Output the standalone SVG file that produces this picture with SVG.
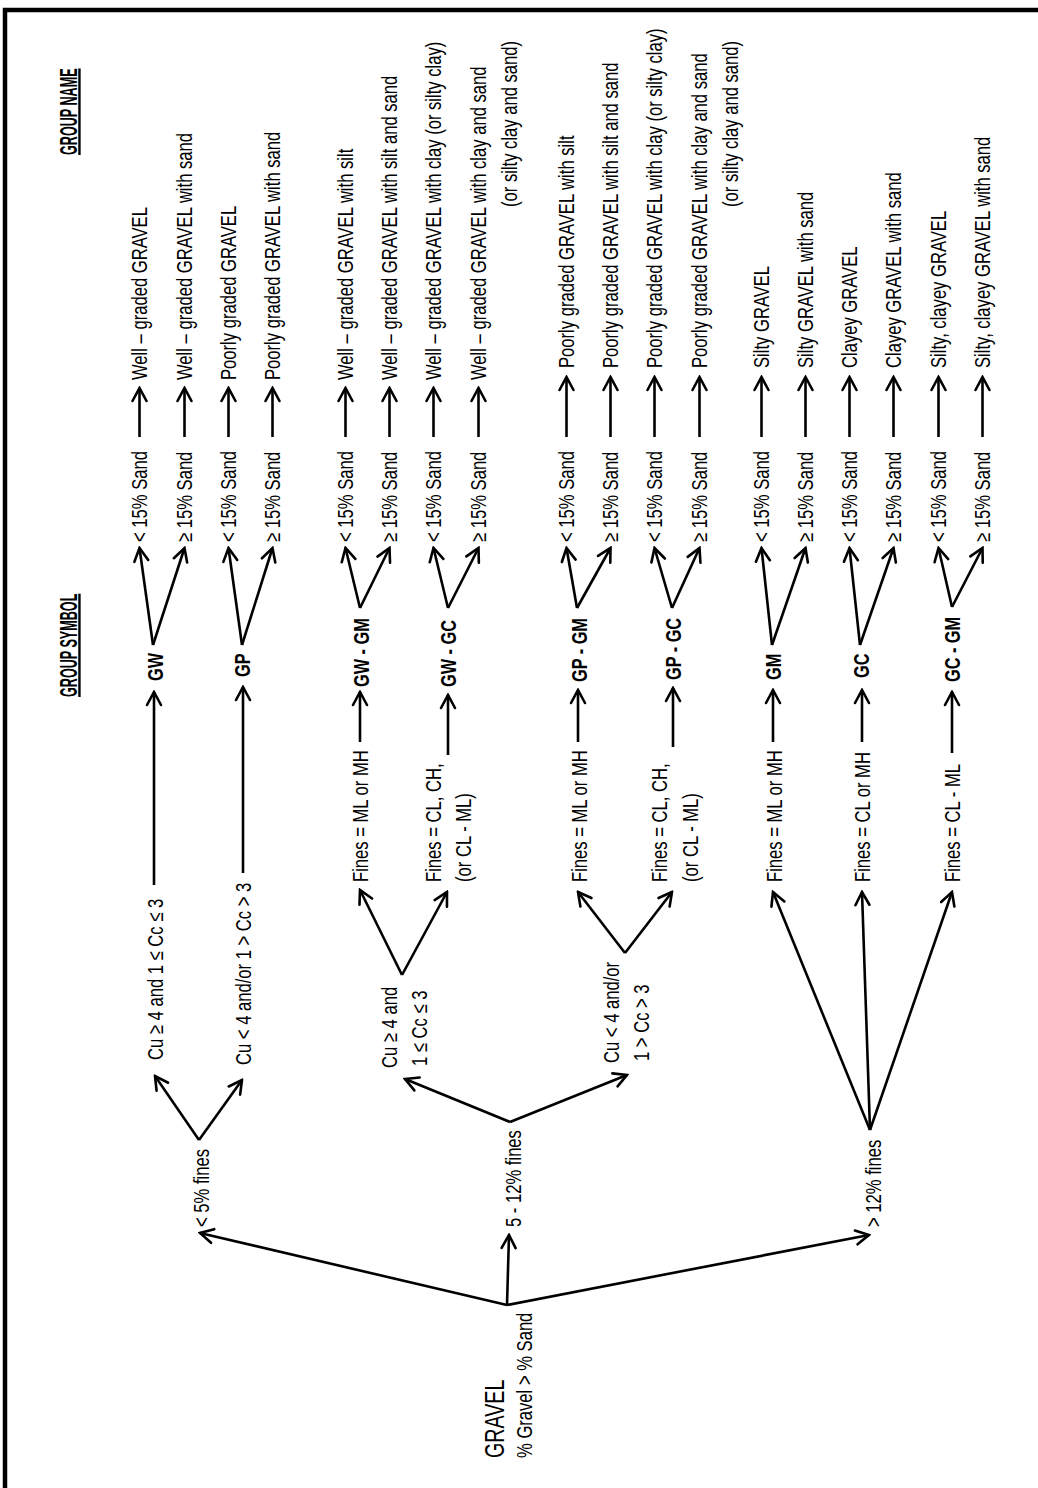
<svg xmlns="http://www.w3.org/2000/svg" width="1038" height="1488" viewBox="0 0 1038 1488">
<defs>
<marker id="ah" markerUnits="userSpaceOnUse" viewBox="-16 -10 18 20" refX="0" refY="0" markerWidth="18" markerHeight="20" orient="auto">
<path d="M-13,-7 L0,0 L-13,7" fill="none" stroke="#000" stroke-width="2.6" stroke-linecap="round"/>
</marker>
<style>
.t{font-family:"Liberation Sans",Arial,Helvetica,sans-serif;font-size:22px;fill:#000}
.b{font-weight:bold}
.u{text-decoration:underline}
.h{font-size:24px}
.c{fill:none;stroke:#000;stroke-width:2.6;marker-end:url(#ah)}
</style>
</defs>
<rect width="1038" height="1488" fill="#fff"/>
<path d="M5 1490 V10 H1040" fill="none" stroke="#000" stroke-width="4.5"/>
<g transform="translate(0 1488) rotate(-90)">
<g id="connectors">
<path class="c" d="M183 507 L255 200"/>
<path class="c" d="M183 507 L253 509"/>
<path class="c" d="M183 507 L253 869"/>
<path class="c" d="M348 199 L412 155"/>
<path class="c" d="M348 199 L408 242"/>
<path class="c" d="M366 510 L409 405"/>
<path class="c" d="M366 510 L413 627"/>
<path class="c" d="M358 870 L596 773"/>
<path class="c" d="M358 870 L596 862"/>
<path class="c" d="M358 870 L596 952"/>
<path class="c" d="M513 402 L598 360"/>
<path class="c" d="M513 402 L596 447"/>
<path class="c" d="M535 625 L596 578"/>
<path class="c" d="M535 625 L596 672"/>
<path class="c" d="M603 154 L796 154"/>
<path class="c" d="M615 243 L801 243"/>
<path class="c" d="M746 360 L796 360"/>
<path class="c" d="M733 448 L793 448"/>
<path class="c" d="M746 578 L798 578"/>
<path class="c" d="M741 673 L800 673"/>
<path class="c" d="M746 773 L798 773"/>
<path class="c" d="M746 862 L798 862"/>
<path class="c" d="M735 952 L796 952"/>
<path class="c" d="M843 153 L940 139.5"/>
<path class="c" d="M843 153 L940 184.5"/>
<path class="c" d="M843 242 L940 228.5"/>
<path class="c" d="M843 242 L940 272.5"/>
<path class="c" d="M880 360 L940 345.5"/>
<path class="c" d="M880 360 L940 389.5"/>
<path class="c" d="M880 448 L940 433.5"/>
<path class="c" d="M880 448 L940 478.5"/>
<path class="c" d="M880 577 L940 566.5"/>
<path class="c" d="M880 577 L940 610.5"/>
<path class="c" d="M880 672 L940 654.5"/>
<path class="c" d="M880 672 L940 699.5"/>
<path class="c" d="M843 772 L940 761.5"/>
<path class="c" d="M843 772 L940 805.5"/>
<path class="c" d="M843 860 L940 849.5"/>
<path class="c" d="M843 860 L940 893.5"/>
<path class="c" d="M881 952 L940 938.5"/>
<path class="c" d="M881 952 L940 982.5"/>
<path class="c" d="M1051 139.5 L1100 139.5"/>
<path class="c" d="M1051 184.5 L1100 184.5"/>
<path class="c" d="M1051 228.5 L1100 228.5"/>
<path class="c" d="M1051 272.5 L1100 272.5"/>
<path class="c" d="M1051 345.5 L1100 345.5"/>
<path class="c" d="M1051 389.5 L1100 389.5"/>
<path class="c" d="M1051 433.5 L1100 433.5"/>
<path class="c" d="M1051 478.5 L1100 478.5"/>
<path class="c" d="M1051 566.5 L1111 566.5"/>
<path class="c" d="M1051 610.5 L1111 610.5"/>
<path class="c" d="M1051 654.5 L1111 654.5"/>
<path class="c" d="M1051 699.5 L1111 699.5"/>
<path class="c" d="M1051 761.5 L1111 761.5"/>
<path class="c" d="M1051 805.5 L1111 805.5"/>
<path class="c" d="M1051 849.5 L1111 849.5"/>
<path class="c" d="M1051 893.5 L1111 893.5"/>
<path class="c" d="M1051 938.5 L1111 938.5"/>
<path class="c" d="M1051 982.5 L1111 982.5"/>
</g>
<g id="headers">
<text class="t b u h" transform="translate(791 77) scale(.525 1)">GROUP SYMBOL</text>
<text class="t b u h" transform="translate(1333 77) scale(.525 1)">GROUP NAME</text>
</g>
<g id="root">
<text class="t" transform="translate(30 504) scale(.73 1)" style="font-size:27px">GRAVEL</text>
<text class="t" transform="translate(30 532) scale(.755 1)">% Gravel &gt; % Sand</text>
</g>
<g id="fines-lt5"><text class="t" transform="translate(261 209) scale(.755 1)">&lt; 5% fines</text></g>
<g id="fines-5-12"><text class="t" transform="translate(261 521) scale(.755 1)">5 - 12% fines</text></g>
<g id="fines-gt12"><text class="t" transform="translate(261 881) scale(.755 1)">&gt; 12% fines</text></g>
<g id="cu-gw"><text class="t" transform="translate(428 163) scale(.755 1)">Cu ≥  4 and 1 ≤ Cc ≤ 3</text></g>
<g id="cu-gp"><text class="t" transform="translate(423 251) scale(.755 1)">Cu &lt;  4 and/or 1 &gt; Cc &gt; 3</text></g>
<g id="cu-gw-dual">
<text class="t" transform="translate(420 397) scale(.755 1)">Cu ≥  4 and</text>
<text class="t" transform="translate(422 427) scale(.755 1)">1 ≤ Cc ≤ 3</text>
</g>
<g id="cu-gp-dual">
<text class="t" transform="translate(425 619) scale(.755 1)">Cu &lt;  4 and/or</text>
<text class="t" transform="translate(427 649) scale(.755 1)">1 &gt; Cc &gt; 3</text>
</g>
<g id="fines-gw-ml"><text class="t" transform="translate(606 368) scale(.755 1)">Fines = ML or MH</text></g>
<g id="fines-gw-cl">
<text class="t" transform="translate(606 441) scale(.755 1)">Fines = CL, CH,</text>
<text class="t" transform="translate(606 471) scale(.755 1)">(or CL - ML)</text>
</g>
<g id="fines-gp-ml"><text class="t" transform="translate(606 587) scale(.755 1)">Fines = ML or MH</text></g>
<g id="fines-gp-cl">
<text class="t" transform="translate(606 667) scale(.755 1)">Fines = CL, CH,</text>
<text class="t" transform="translate(606 698) scale(.755 1)">(or CL - ML)</text>
</g>
<g id="fines-gm"><text class="t" transform="translate(606 782) scale(.755 1)">Fines = ML or MH</text></g>
<g id="fines-gc"><text class="t" transform="translate(606 870) scale(.755 1)">Fines = CL or MH</text></g>
<g id="fines-gcgm"><text class="t" transform="translate(606 960) scale(.755 1)">Fines = CL - ML</text></g>
<g id="sym-gw"><text class="t b" transform="translate(807 163) scale(.74 1)">GW</text></g>
<g id="sym-gp"><text class="t b" transform="translate(811 250) scale(.74 1)">GP</text></g>
<g id="sym-gw-gm"><text class="t b" transform="translate(801 369) scale(.74 1)">GW - GM</text></g>
<g id="sym-gw-gc"><text class="t b" transform="translate(801 456) scale(.74 1)">GW - GC</text></g>
<g id="sym-gp-gm"><text class="t b" transform="translate(806 587) scale(.74 1)">GP - GM</text></g>
<g id="sym-gp-gc"><text class="t b" transform="translate(808 681) scale(.74 1)">GP - GC</text></g>
<g id="sym-gm"><text class="t b" transform="translate(808 781) scale(.74 1)">GM</text></g>
<g id="sym-gc"><text class="t b" transform="translate(810 869) scale(.74 1)">GC</text></g>
<g id="sym-gc-gm"><text class="t b" transform="translate(806 960) scale(.74 1)">GC - GM</text></g>
<g id="sand">
<text class="t" transform="translate(946 147) scale(.755 1)">&lt; 15% Sand</text>
<text class="t" transform="translate(946 192) scale(.755 1)">≥ 15% Sand</text>
<text class="t" transform="translate(946 236) scale(.755 1)">&lt; 15% Sand</text>
<text class="t" transform="translate(946 280) scale(.755 1)">≥ 15% Sand</text>
<text class="t" transform="translate(946 353) scale(.755 1)">&lt; 15% Sand</text>
<text class="t" transform="translate(946 397) scale(.755 1)">≥ 15% Sand</text>
<text class="t" transform="translate(946 441) scale(.755 1)">&lt; 15% Sand</text>
<text class="t" transform="translate(946 486) scale(.755 1)">≥ 15% Sand</text>
<text class="t" transform="translate(946 574) scale(.755 1)">&lt; 15% Sand</text>
<text class="t" transform="translate(946 618) scale(.755 1)">≥ 15% Sand</text>
<text class="t" transform="translate(946 662) scale(.755 1)">&lt; 15% Sand</text>
<text class="t" transform="translate(946 707) scale(.755 1)">≥ 15% Sand</text>
<text class="t" transform="translate(946 769) scale(.755 1)">&lt; 15% Sand</text>
<text class="t" transform="translate(946 813) scale(.755 1)">≥ 15% Sand</text>
<text class="t" transform="translate(946 857) scale(.755 1)">&lt; 15% Sand</text>
<text class="t" transform="translate(946 901) scale(.755 1)">≥ 15% Sand</text>
<text class="t" transform="translate(946 946) scale(.755 1)">&lt; 15% Sand</text>
<text class="t" transform="translate(946 990) scale(.755 1)">≥ 15% Sand</text>
</g>
<g id="names">
<text class="t" transform="translate(1108 147) scale(.755 1)">Well – graded GRAVEL</text>
<text class="t" transform="translate(1108 192) scale(.755 1)">Well – graded GRAVEL with sand</text>
<text class="t" transform="translate(1108 236) scale(.755 1)">Poorly graded GRAVEL</text>
<text class="t" transform="translate(1108 280) scale(.755 1)">Poorly graded GRAVEL with sand</text>
<text class="t" transform="translate(1108 353) scale(.755 1)">Well – graded GRAVEL with silt</text>
<text class="t" transform="translate(1108 397) scale(.755 1)">Well – graded GRAVEL with silt and sand</text>
<text class="t" transform="translate(1108 441) scale(.755 1)">Well – graded GRAVEL with clay (or silty clay)</text>
<text class="t" transform="translate(1108 486) scale(.755 1)">Well – graded GRAVEL with clay and sand</text>
<text class="t" transform="translate(1281 517) scale(.755 1)">(or silty clay and sand)</text>
<text class="t" transform="translate(1120 574) scale(.755 1)">Poorly graded GRAVEL with silt</text>
<text class="t" transform="translate(1120 618) scale(.755 1)">Poorly graded GRAVEL with silt and sand</text>
<text class="t" transform="translate(1120 662) scale(.755 1)">Poorly graded GRAVEL with clay (or silty clay)</text>
<text class="t" transform="translate(1120 707) scale(.755 1)">Poorly graded GRAVEL with clay and sand</text>
<text class="t" transform="translate(1281 738) scale(.755 1)">(or silty clay and sand)</text>
<text class="t" transform="translate(1120 769) scale(.755 1)">Silty GRAVEL</text>
<text class="t" transform="translate(1120 813) scale(.755 1)">Silty GRAVEL with sand</text>
<text class="t" transform="translate(1120 857) scale(.755 1)">Clayey GRAVEL</text>
<text class="t" transform="translate(1120 901) scale(.755 1)">Clayey GRAVEL with sand</text>
<text class="t" transform="translate(1120 946) scale(.755 1)">Silty, clayey GRAVEL</text>
<text class="t" transform="translate(1120 990) scale(.755 1)">Silty, clayey GRAVEL with sand</text>
</g>
</g>
</svg>
